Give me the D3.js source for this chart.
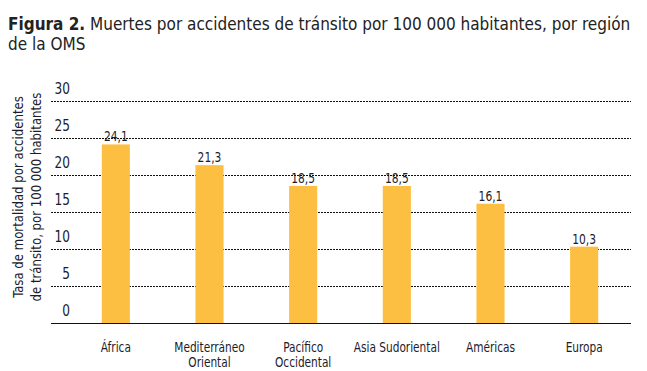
<!DOCTYPE html>
<html>
<head>
<meta charset="utf-8">
<script src="https://cdn.jsdelivr.net/npm/d3@7"></script>
<style>
  body { margin: 0; background: #fff; }
  text { font-family: "DejaVu Sans Condensed", "Liberation Sans Narrow", "Roboto", sans-serif; }
</style>
</head>
<body>
<div id="chart"></div>
<script>
// data
var regions = [["África"], ["Mediterráneo", "Oriental"], ["Pacífico", "Occidental"], ["Asia Sudoriental"], ["Américas"], ["Europa"]];
var rates = [24.1, 21.3, 18.5, 18.5, 16.1, 10.3];
var yTicks = [0, 5, 10, 15, 20, 25, 30];

var width = 647, height = 371;
var fmt = function(v) { return d3.format(".1f")(v).replace(".", ","); };
var ink = "#1c1c2c";

var svg = d3.select("#chart").append("svg")
    .attr("width", width)
    .attr("height", height);

// title (narrowed a bit to look like the condensed original)
var title = svg.append("text")
    .attr("transform", "translate(8,30) scale(0.945,1)")
    .style("font-size", "18px")
    .style("fill", "#222");
title.append("tspan").style("font-weight", "bold").text("Figura 2.");
title.append("tspan").text(" Muertes por accidentes de tránsito por 100 000 habitantes, por región");
svg.append("text")
    .attr("transform", "translate(8,50) scale(0.945,1)")
    .style("font-size", "18px")
    .style("fill", "#222")
    .text("de la OMS");

var x = d3.scaleBand()
    .domain(d3.range(regions.length))
    .range([69, 631])
    .paddingInner(0.7)
    .paddingOuter(0.35);

var y = d3.scaleLinear()
    .domain([0, 30])
    .range([323, 100.7]);

// grid lines
svg.append("g").selectAll("line")
    .data(yTicks.filter(function(d) { return d > 0; }))
  .enter().append("line")
    .attr("x1", 51)
    .attr("x2", 631)
    .attr("y1", function(d) { return Math.round(y(d)) + 0.5; })
    .attr("y2", function(d) { return Math.round(y(d)) + 0.5; })
    .style("stroke", "#111")
    .style("stroke-width", 1)
    .style("stroke-dasharray", "2,1");

// tick labels sit above their line
svg.append("g").selectAll("text")
    .data(yTicks)
  .enter().append("text")
    .attr("transform", function(d) { return "translate(70," + (y(d) - 7) + ") scale(0.9,1)"; })
    .attr("text-anchor", "end")
    .style("font-size", "15px")
    .style("fill", ink)
    .text(function(d) { return d; });

// bars
svg.append("g").selectAll("rect")
    .data(rates)
  .enter().append("rect")
    .attr("x", function(d, i) { return x(i); })
    .attr("width", x.bandwidth())
    .attr("y", function(d) { return y(d); })
    .attr("height", function(d) { return y(0) - y(d); })
    .style("fill", "#fdbf41");

// value labels
svg.append("g").selectAll("text")
    .data(rates)
  .enter().append("text")
    .attr("transform", function(d, i) {
      return "translate(" + (x(i) + x.bandwidth() / 2) + "," + (y(d) - 3) + ") scale(0.88,1)";
    })
    .attr("text-anchor", "middle")
    .style("font-size", "13.5px")
    .style("fill", ink)
    .text(fmt);

// baseline
svg.append("line")
    .attr("x1", 51)
    .attr("x2", 631)
    .attr("y1", 323.5)
    .attr("y2", 323.5)
    .style("stroke", "#111")
    .style("stroke-width", 1);

// category labels
var cat = svg.append("g").selectAll("text")
    .data(regions)
  .enter().append("text")
    .attr("transform", function(d, i) {
      return "translate(" + (x(i) + x.bandwidth() / 2) + ",352) scale(0.87,1)";
    })
    .attr("text-anchor", "middle")
    .style("font-size", "13.5px")
    .style("fill", ink);
cat.selectAll("tspan")
    .data(function(d) { return d; })
  .enter().append("tspan")
    .attr("x", 0)
    .attr("dy", function(d, i) { return i ? 15 : 0; })
    .text(function(d) { return d; });

// y axis title
var yt = svg.append("text")
    .attr("transform", "translate(23,197) rotate(-90) scale(0.9,1)")
    .attr("text-anchor", "middle")
    .style("font-size", "14.5px")
    .style("fill", ink);
yt.append("tspan").attr("x", 0).attr("dy", 0).text("Tasa de mortalidad por accidentes");
yt.append("tspan").attr("x", 0).attr("dy", 18).text("de tránsito, por 100 000 habitantes");
</script>
</body>
</html>
